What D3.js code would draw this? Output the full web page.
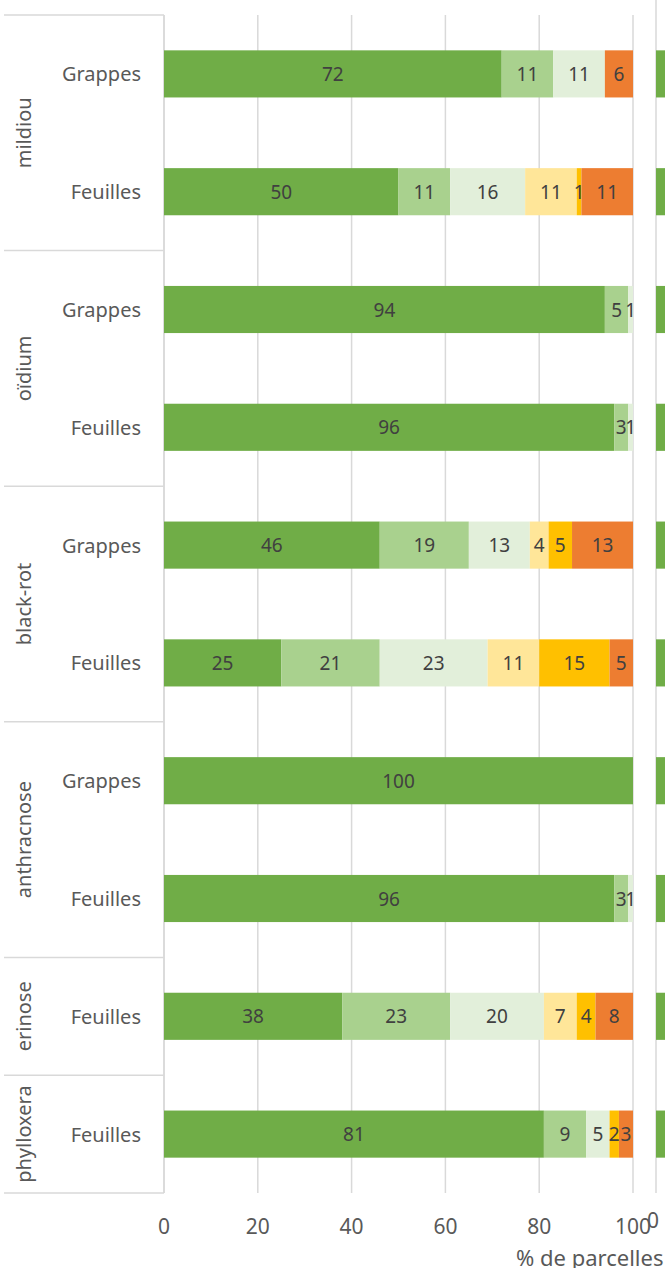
<!DOCTYPE html>
<html>
<head>
<meta charset="utf-8">
<script src="https://cdn.jsdelivr.net/npm/d3@7"></script>
<style>
  html, body { margin: 0; padding: 0; background: #fff; }
  svg { display: block; font-family: "Noto Sans", "Open Sans", sans-serif; }
</style>
</head>
<body>
<div id="chart"></div>
<script>
// rows, top to bottom
const diseases = ["mildiou", "oïdium", "black-rot", "anthracnose", "erinose", "phylloxera"];
const organs   = [["Grappes","Feuilles"], ["Grappes","Feuilles"], ["Grappes","Feuilles"],
                  ["Grappes","Feuilles"], ["Feuilles"], ["Feuilles"]];

// % of plots per class (one array per class, one value per row)
const cls1 = [72, 50, 94, 96, 46, 25, 100, 96, 38, 81];
const cls2 = [11, 11,  5,  3, 19, 21,   0,  3, 23,  9];
const cls3 = [11, 16,  1,  1, 13, 23,   0,  1, 20,  5];
const cls4 = [ 0, 11,  0,  0,  4, 11,   0,  0,  7,  0];
const cls5 = [ 0,  1,  0,  0,  5, 15,   0,  0,  4,  2];
const cls6 = [ 6, 11,  0,  0, 13,  5,   0,  0,  8,  3];

// neighbouring panel, only its first bars are visible (estimated)
const nextPanel = [60, 60, 60, 60, 60, 60, 60, 60, 60, 60];

const xTicks = [0, 20, 40, 60, 80, 100];
const keys   = ["c1","c2","c3","c4","c5","c6"];
const colors = ["#70AD47","#A9D18E","#E2EFDA","#FFE699","#FFC000","#ED7D31"];

// flatten to one record per row
const rows = [];
diseases.forEach((d, i) => organs[i].forEach(o => rows.push({disease: d, organ: o})));
rows.forEach((r, i) => {
  r.id = i;
  [cls1, cls2, cls3, cls4, cls5, cls6].forEach((arr, k) => r[keys[k]] = arr[i]);
});

const width = 665, height = 1268;
const plotTop = 15, plotBottom = 1193, x0 = 164, x1 = 633;

const svg = d3.select("#chart").append("svg")
  .attr("width", width).attr("height", height);

const x = d3.scaleLinear().domain([0, 100]).range([x0, x1]);
const x2 = d3.scaleLinear().domain([0, 100]).range([656, 1125]);
const y = d3.scaleBand().domain(rows.map(r => r.id)).range([plotTop, plotBottom])
  .paddingInner(0.6).paddingOuter(0.3);
const step = y.step();
const rowTop = i => plotTop + i * step;

// gridlines
svg.append("g").selectAll("line").data(xTicks).join("line")
  .attr("x1", d => x(d)).attr("x2", d => x(d))
  .attr("y1", plotTop).attr("y2", plotBottom)
  .attr("stroke", "#D9D9D9").attr("stroke-width", 1.5);
svg.append("line")
  .attr("x1", x2(0)).attr("x2", x2(0)).attr("y1", 0).attr("y2", plotBottom)
  .attr("stroke", "#D9D9D9").attr("stroke-width", 1.5);

// category axis: vertical line + group separators
svg.append("line")
  .attr("x1", x0).attr("x2", x0).attr("y1", plotTop).attr("y2", plotBottom)
  .attr("stroke", "#D9D9D9").attr("stroke-width", 1.5);
const groupStarts = [];
let acc = 0;
organs.forEach(o => { groupStarts.push(acc); acc += o.length; });
const sepIdx = groupStarts.concat([rows.length]);
svg.append("g").selectAll("line").data(sepIdx).join("line")
  .attr("x1", 4).attr("x2", x0)
  .attr("y1", d => rowTop(d)).attr("y2", d => rowTop(d))
  .attr("stroke", "#D9D9D9").attr("stroke-width", 1.5);

// stacked bars
const series = d3.stack().keys(keys)(rows);
const layer = svg.append("g").selectAll("g").data(series).join("g")
  .attr("fill", (d, i) => colors[i]);
layer.selectAll("rect").data(d => d).join("rect")
  .attr("x", d => x(d[0]))
  .attr("width", d => x(d[1]) - x(d[0]))
  .attr("y", d => y(d.data.id))
  .attr("height", y.bandwidth());

// data labels
const labels = [];
series.forEach(s => s.forEach(d => { if (d[1] - d[0] > 0) labels.push(d); }));
svg.append("g").selectAll("text").data(labels).join("text")
  .attr("x", d => x((d[0] + d[1]) / 2))
  .attr("y", d => y(d.data.id) + y.bandwidth() / 2)
  .attr("text-anchor", "middle").attr("dominant-baseline", "central")
  .attr("font-size", 19).attr("fill", "#404040")
  .text(d => d[1] - d[0]);

// neighbouring panel bars
svg.append("g").selectAll("rect").data(nextPanel).join("rect")
  .attr("x", x2(0)).attr("width", d => x2(d) - x2(0))
  .attr("y", (d, i) => y(i)).attr("height", y.bandwidth())
  .attr("fill", colors[0]);

// organ labels
svg.append("g").selectAll("text").data(rows).join("text")
  .attr("x", 141).attr("y", d => y(d.id) + y.bandwidth() / 2)
  .attr("text-anchor", "end").attr("dominant-baseline", "central")
  .attr("font-size", 20).attr("fill", "#595959")
  .text(d => d.organ);

// disease labels (rotated)
svg.append("g").selectAll("text").data(diseases).join("text")
  .attr("transform", (d, i) => {
    const cy = (rowTop(groupStarts[i]) + rowTop(groupStarts[i] + organs[i].length)) / 2;
    return `translate(23,${cy}) rotate(-90)`;
  })
  .attr("text-anchor", "middle").attr("dominant-baseline", "central")
  .attr("font-size", 20).attr("fill", "#595959")
  .text(d => d);

// x axis tick labels
svg.append("g").selectAll("text").data(xTicks).join("text")
  .attr("x", d => x(d)).attr("y", 1226)
  .attr("text-anchor", "middle").attr("dominant-baseline", "central")
  .attr("font-size", 21).attr("fill", "#595959")
  .text(d => d);
svg.append("text")
  .attr("x", x2(0) - 3).attr("y", 1220)
  .attr("text-anchor", "middle").attr("dominant-baseline", "central")
  .attr("font-size", 21).attr("fill", "#595959")
  .text("0");

// axis title (cut off by the right edge, as in the source)
svg.append("text")
  .attr("x", 516).attr("y", 1257)
  .attr("dominant-baseline", "central")
  .attr("font-size", 22).attr("fill", "#595959")
  .text("% de parcelles");
</script>
</body>
</html>
